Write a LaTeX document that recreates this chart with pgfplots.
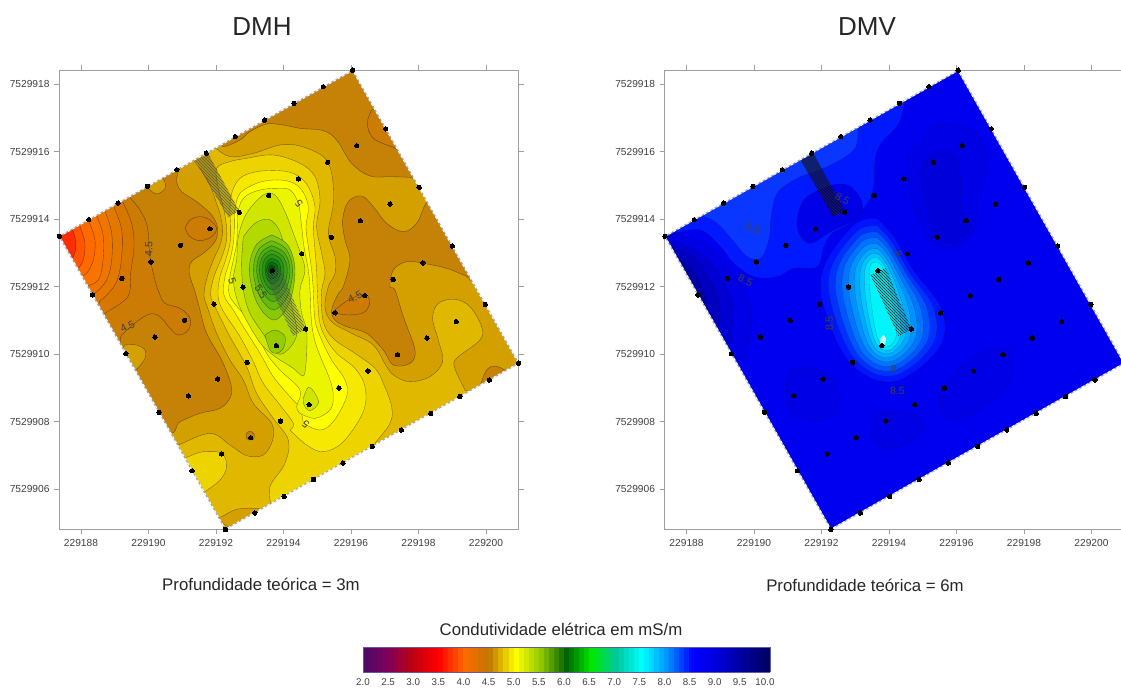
\documentclass[border=0pt]{standalone}
\usepackage{fontspec}
\setmainfont{Liberation Sans}
\usepackage{pgfplots}
\usepackage{pgfplotstable}
\pgfplotsset{compat=1.18}
\usetikzlibrary{patterns}
% x = East - 229180 m, y = North - 7529900 m (full values are typed in the tick labels)
\pgfplotstableread{
x y
7.36 13.49
8.23 13.98
9.10 14.47
9.97 14.97
10.84 15.46
11.71 15.95
12.57 16.44
13.44 16.93
14.31 17.43
15.18 17.92
16.05 18.41
17.03 16.67
18.02 14.94
19.00 13.20
19.98 11.47
20.97 9.73
8.34 11.75
9.33 10.01
10.31 8.27
11.29 6.54
12.28 4.80
13.15 5.29
14.02 5.78
14.89 6.28
15.76 6.77
16.63 7.26
17.49 7.75
18.36 8.24
19.23 8.74
20.10 9.23
9.21 12.24
10.07 12.73
10.95 13.22
11.82 13.71
12.69 14.20
13.56 14.70
14.44 15.19
15.31 15.68
16.17 16.17
10.19 10.50
11.07 11.00
11.94 11.48
12.80 11.98
13.67 12.47
14.54 12.97
15.42 13.46
16.28 13.95
17.16 14.44
11.18 8.76
12.05 9.26
12.92 9.75
13.79 10.25
14.66 10.74
15.53 11.22
16.41 11.73
17.25 12.21
18.13 12.70
12.17 7.04
13.03 7.52
13.91 8.01
14.76 8.50
15.64 8.99
16.50 9.50
17.38 9.98
18.25 10.47
19.12 10.96
}\stations
\definecolor{c38}{RGB}{255,45,5}
\definecolor{c39}{RGB}{255,85,0}
\definecolor{c40}{RGB}{255,106,0}
\definecolor{c41}{RGB}{250,115,0}
\definecolor{c42}{RGB}{238,118,0}
\definecolor{c43}{RGB}{226,120,0}
\definecolor{c44}{RGB}{214,120,0}
\definecolor{c45}{RGB}{204,124,4}
\definecolor{c46}{RGB}{198,130,6}
\definecolor{c47}{RGB}{212,160,0}
\definecolor{c48}{RGB}{224,184,0}
\definecolor{c49}{RGB}{237,212,0}
\definecolor{c50}{RGB}{246,232,0}
\definecolor{c51}{RGB}{255,255,0}
\definecolor{c52}{RGB}{236,245,0}
\definecolor{c53}{RGB}{208,230,0}
\definecolor{c54}{RGB}{178,218,0}
\definecolor{c55}{RGB}{150,205,0}
\definecolor{r1}{RGB}{135,200,10}
\definecolor{r2}{RGB}{105,186,15}
\definecolor{r3}{RGB}{80,172,20}
\definecolor{r4}{RGB}{60,160,20}
\definecolor{r5}{RGB}{40,148,20}
\definecolor{r6}{RGB}{22,132,18}
\definecolor{r7}{RGB}{8,112,12}
\definecolor{r8}{RGB}{0,85,5}
\pgfplotsset{
  gz/.style={x filter/.expression={8+(x-243)/101.25},y filter/.expression={18-(y-252)/101.25}},
  colormap={cond}{rgb255=(74,10,106) rgb255=(128,0,90) rgb255=(192,0,16) rgb255=(255,0,0) rgb255=(255,106,0) rgb255=(192,120,0) rgb255=(255,255,0) rgb255=(144,200,0) rgb255=(0,100,0) rgb255=(0,232,0) rgb255=(0,200,160) rgb255=(0,255,255) rgb255=(0,144,255) rgb255=(0,0,255) rgb255=(0,0,216) rgb255=(0,0,152) rgb255=(0,0,96)},
  mapaxis/.style={scale only axis,width=459.7pt,height=459.3pt,xmin=7.348,xmax=20.97,ymin=4.806,ymax=18.415,
    axis on top,tick align=outside,major tick length=5pt,
    xtick={8,10,12,14,16,18,20},xticklabels={229188,229190,229192,229194,229196,229198,229200},
    ytick={6,8,10,12,14,16,18},yticklabels={7529906,7529908,7529910,7529912,7529914,7529916,7529918},
    xticklabel pos=bottom,yticklabel pos=left,xtick pos=both,ytick pos=both,
    axis line style={gray!75,line width=.9pt},tick style={gray!75,line width=.7pt},
    tick label style={font=\fontsize{10.2pt}{12pt}\selectfont,text=black!75},
    xticklabel style={yshift=-2pt},yticklabel style={xshift=-1pt}},
  overlay/.style={scale only axis,width=459.7pt,height=459.3pt,xmin=7.348,xmax=20.97,ymin=4.806,ymax=18.415,hide axis,clip=false}
}
\newcommand\BL[2]{\addplot[gz,smooth,tension=.6,fill=#1,draw=black,draw opacity=.5,line width=.35pt] coordinates {#2};}
\newcommand\BR[2]{\addplot[gz,smooth,tension=.6,fill=#1,draw=black,draw opacity=.28,line width=.3pt] coordinates {#2};}
\newcommand\Flat[2]{\addplot[gz,fill=#1,draw=none] coordinates {#2};}
\newcommand\Mask{%
 \Flat{white}{(150,180)(1058,180)(1058,211)(178,709)(150,709)}
 \Flat{white}{(1058,180)(1600,180)(1600,1090)(1556,1090)(1058,211)}
 \Flat{white}{(1600,1090)(1600,1620)(676,1620)(676,1588)(1556,1090)}
 \Flat{white}{(150,709)(178,709)(676,1588)(676,1620)(150,1620)}
 \addplot[gz,gray!70,line width=1.1pt] coordinates {(178,709)(1058,211)(1556,1090)(676,1588)(178,709)};
 \addplot[gz,white,line width=1.1pt,dash pattern=on 2.5pt off 2.5pt] coordinates {(178,709)(1058,211)(1556,1090)(676,1588)(178,709)};
}
\newcommand\Hatch[2]{%
 \addplot[gz,fill=black,fill opacity=#1,draw=none] coordinates {(585,480)(625,462)(717,632)(685,652)(585,480)};
 \addplot[gz,pattern=north west lines,pattern color=#2,draw=none] coordinates {(585,480)(625,462)(717,632)(685,652)(585,480)};
 \addplot[gz,fill=black,fill opacity=.08,draw=none] coordinates {(795,825)(840,804)(918,987)(879,1008)(795,825)};
 \addplot[gz,pattern=north west lines,pattern color=#2,draw=none] coordinates {(795,825)(840,804)(918,987)(879,1008)(795,825)};
}
\newcommand\Stations{\addplot[only marks,mark=*,mark size=2.2pt,mark options={fill=black,draw=black,line width=0pt}] table[x=x,y=y] {\stations};}
\newcommand\Lab[4]{\node[rotate=#3,font=\fontsize{10.5pt}{12pt}\selectfont,text=black!75,inner sep=0pt] at (axis cs:#1,#2) {#4};}
\begin{document}
\begin{tikzpicture}[x=1pt,y=1pt]
\path[use as bounding box] (0,0) rectangle (1121,694);
\clip (0,0) rectangle (1121,694);
% ---------------- DMH ----------------
\begin{axis}[mapaxis,at={(59pt,164.7pt)},anchor=south west]
\Flat{c47}{(178,709)(1058,211)(1556,1090)(676,1588)}
\BL{c46}{(535,495)(533,522)(530,545)(545,575)(590,605)(635,645)(653,685)(645,725)(610,760)(575,785)(568,820)(585,875)(600,930)(620,1000)(665,1080)(692,1150)(692,1190)(660,1225)(600,1240)(540,1265)(495,1290)(300,1100)(179,709)(350,590)(535,495)}
\BL{c47}{(445,565)(470,582)(495,565)(492,540)(470,520)(445,565)}
\BL{c47}{(375,1035)(410,1035)(435,1050)(435,1075)(415,1102)(400,1108)(360,1070)(375,1035)}
\BL{c45}{(555,685)(570,660)(600,650)(630,660)(650,685)(635,710)(600,722)(570,710)(555,685)}
\BL{c45}{(385,580)(392,595)(420,630)(442,680)(450,770)(465,840)(478,880)(495,910)(540,925)(570,955)(565,990)(535,1005)(510,985)(480,950)(450,942)(410,965)(365,1005)(340,1030)(179,709)(385,580)}
\BL{c44}{(360,590)(368,605)(395,670)(402,740)(392,820)(390,870)(375,900)(315,940)(300,950)(179,709)(360,590)}
\BL{c43}{(335,605)(342,620)(365,690)(365,770)(352,840)(325,880)(298,905)(285,915)(179,709)(335,605)}
\BL{c42}{(310,625)(317,638)(335,700)(335,780)(320,840)(285,880)(268,890)(179,709)(310,625)}
\BL{c41}{(285,640)(292,652)(310,710)(308,790)(295,840)(260,860)(250,870)(179,709)(285,640)}
\BL{c40}{(260,655)(268,668)(285,720)(280,780)(260,820)(242,830)(235,838)(179,709)(260,655)}
\BL{c39}{(235,670)(242,685)(255,730)(250,780)(235,805)(225,815)(179,709)(235,670)}
\BL{c38}{(212,682)(220,695)(228,735)(220,770)(205,778)(179,709)(212,682)}
% top and east low regions
\BL{c46}{(660,420)(670,440)(720,420)(750,395)(800,372)(850,375)(900,385)(970,392)(1010,420)(1055,490)(1110,528)(1170,530)(1232,532)(1250,535)(1170,300)(1058,213)(660,420)}
\BL{c45}{(1115,330)(1102,370)(1120,415)(1180,442)(1195,445)(1240,400)(1180,330)(1115,330)}
\BL{c46}{(1290,600)(1275,615)(1250,670)(1210,695)(1160,670)(1120,620)(1085,588)(1045,605)(1028,660)(1035,720)(1050,780)(1030,860)(1015,880)(995,930)(1005,960)(1040,980)(1100,1000)(1150,1050)(1180,1095)(1230,1090)(1245,1050)(1210,950)(1185,870)(1170,860)(1180,810)(1220,785)(1270,790)(1340,805)(1398,828)(1420,835)(1450,720)(1290,600)}
\BL{c45}{(1000,938)(1045,945)(1090,938)(1108,915)(1105,890)(1090,882)(1045,900)(1005,930)(1000,938)}
\BL{c46}{(1443,1150)(1460,1110)(1485,1098)(1515,1110)(1525,1115)(1530,1170)(1440,1180)(1443,1150)}
% ridge
\BL{c48}{(520,1340)(535,1335)(630,1300)(690,1335)(740,1367)(790,1365)(818,1320)(815,1270)(760,1210)(730,1140)(690,1080)(650,1000)(625,930)(612,885)(622,830)(640,780)(660,735)(668,695)(662,650)(648,605)(625,545)(585,485)(578,470)(610,430)(640,440)(690,470)(760,460)(840,435)(900,438)(970,470)(995,520)(1000,610)(985,700)(1005,770)(1005,820)(985,860)(975,920)(995,965)(1055,1000)(1120,1035)(1160,1100)(1185,1128)(1230,1145)(1290,1130)(1328,1085)(1315,1020)(1298,955)(1315,910)(1365,898)(1410,920)(1445,980)(1440,1020)(1370,1075)(1365,1105)(1395,1170)(1402,1190)(1000,1460)(690,1586)(590,1480)(520,1340)}
\BL{c46}{(738,1303)(750,1293)(763,1303)(760,1317)(750,1320)(740,1315)(738,1303)}
\BL{c47}{(650,1553)(665,1550)(710,1528)(765,1525)(780,1535)(700,1583)(650,1553)}
\BL{c49}{(550,1375)(565,1370)(610,1355)(665,1360)(680,1400)(660,1440)(615,1475)(605,1480)(540,1420)(550,1375)}
\BL{c49}{(815,1520)(810,1460)(855,1390)(865,1320)(820,1255)(770,1180)(740,1100)(690,1010)(650,930)(632,885)(642,830)(662,780)(678,730)(680,685)(672,630)(655,565)(650,505)(690,485)(740,475)(820,465)(900,490)(945,530)(960,600)(950,680)(965,760)(975,820)(965,870)(965,930)(975,980)(1005,1020)(1065,1060)(1125,1105)(1150,1150)(1175,1220)(1170,1270)(1125,1330)(1120,1345)(960,1520)(815,1520)}
\BL{c50}{(870,1290)(920,1335)(970,1355)(1030,1325)(1090,1235)(1095,1160)(1065,1105)(1010,1060)(975,1010)(958,960)(952,870)(950,810)(945,750)(940,680)(945,620)(925,560)(890,525)(840,512)(770,515)(720,535)(695,580)(690,630)(692,685)(690,730)(677,780)(660,830)(654,885)(668,930)(720,1010)(760,1085)(790,1150)(840,1215)(880,1270)(870,1290)}
\BL{c51}{(910,1270)(960,1290)(1000,1265)(1040,1190)(1035,1140)(995,1080)(965,1020)(945,960)(940,870)(935,810)(925,740)(918,680)(925,620)(905,570)(870,545)(820,540)(770,550)(720,580)(705,630)(703,685)(700,730)(690,780)(675,830)(672,885)(700,930)(730,980)(780,1060)(820,1130)(870,1190)(900,1225)(910,1270)}
\BL{c52}{(900,1240)(945,1255)(990,1230)(1000,1190)(990,1140)(950,1040)(935,970)(930,870)(925,810)(912,740)(905,680)(895,610)(870,570)(830,565)(780,570)(735,590)(715,630)(712,685)(710,730)(700,780)(690,830)(688,885)(720,930)(755,970)(800,1060)(840,1110)(900,1170)(890,1220)(900,1240)}
\BL{c53}{(840,1080)(880,1105)(910,1128)(918,1090)(920,1060)(920,990)(905,940)(900,870)(915,810)(900,755)(880,700)(855,635)(825,585)(790,585)(740,640)(715,710)(710,780)(700,840)(715,910)(750,980)(790,1040)(840,1080)}
\BL{c53}{(910,1195)(925,1162)(945,1180)(955,1210)(930,1232)(912,1215)(910,1195)}
\BL{c54}{(730,710)(765,670)(805,658)(835,685)(855,740)(880,800)(870,870)(875,915)(890,1005)(850,1060)(815,1050)(795,1010)(750,940)(730,870)(725,790)(730,710)}
\BL{c55}{(795,1005)(825,990)(855,1010)(850,1045)(830,1060)(810,1050)(795,1005)}
\BL{r1}{(815,705)(864,736)(885,810)(868,908)(822,960)(771,908)(748,810)(768,736)(815,705)}
\BL{r2}{(815,722)(859,748)(878,810)(862,888)(821,930)(779,888)(760,810)(776,748)(815,722)}
\BL{r3}{(815,737)(854,759)(870,810)(856,872)(820,905)(786,872)(770,810)(783,759)(815,737)}
\BL{r4}{(815,750)(848,768)(862,810)(850,859)(819,885)(791,859)(778,810)(789,768)(815,750)}
\BL{r5}{(815,762)(841,776)(852,810)(843,849)(818,870)(796,849)(786,810)(795,776)(815,762)}
\BL{r6}{(815,775)(835,785)(843,810)(836,837)(817,852)(802,837)(795,810)(801,785)(815,775)}
\BL{r7}{(815,785)(829,793)(835,810)(830,828)(816,838)(805,828)(800,810)(805,793)(815,785)}
\BL{r8}{(815,795)(823,800)(826,810)(823,820)(816,825)(809,820)(806,810)(809,800)(815,795)}
\Hatch{.2}{black!65}
\Mask
\Lab{10.01}{13.11}{90}{4.5}
\Lab{12.48}{12.17}{-70}{5}
\Lab{13.33}{11.85}{-60}{5.5}
\Lab{14.46}{14.46}{130}{5}
\Lab{9.38}{10.81}{25}{4.5}
\Lab{16.12}{11.68}{25}{4.5}
\Lab{14.66}{7.92}{140}{5}
\end{axis}
\begin{axis}[overlay,at={(59pt,164.7pt)},anchor=south west]
\Stations
\end{axis}
% ---------------- DMV ----------------
\begin{axis}[mapaxis,at={(664.5pt,164.7pt)},anchor=south west]
\Flat{blue!94!black}{(178,709)(1058,211)(1556,1090)(676,1588)}
\definecolor{bA}{RGB}{0,25,255}
\definecolor{bB}{RGB}{10,55,255}
\BR{bA}{(205,700)(285,690)(345,740)(385,790)(445,830)(515,830)(565,805)(635,800)(655,740)(680,700)(745,660)(800,580)(810,470)(835,420)(880,370)(900,285)(880,260)(500,460)(180,705)(205,700)}
\BR{bB}{(260,650)(295,650)(335,670)(385,725)(425,770)(465,775)(490,720)(497,650)(515,580)(575,535)(665,500)(745,450)(760,385)(775,360)(640,390)(260,650)}
\BR{blue!91!black}{(575,660)(595,600)(665,560)(725,555)(767,600)(760,650)(675,695)(615,730)(580,700)(575,660)}
\definecolor{dA}{RGB}{0,0,230}
\definecolor{dB}{RGB}{0,0,210}
\definecolor{dC}{RGB}{0,0,190}
\definecolor{dD}{RGB}{0,0,165}
\definecolor{dE}{RGB}{0,0,135}
\BR{dA}{(205,700)(300,735)(360,800)(410,860)(435,930)(430,1010)(410,1080)(300,1000)(190,760)(205,700)}
\BR{dB}{(195,725)(280,755)(335,815)(370,880)(385,940)(375,1000)(365,1030)(250,950)(195,760)(195,725)}
\BR{dC}{(190,735)(260,770)(305,830)(335,890)(340,950)(325,980)(230,900)(200,780)(190,735)}
\BR{dD}{(190,765)(240,790)(280,845)(300,900)(300,930)(210,880)(215,800)(190,765)}
\BR{dE}{(225,805)(250,835)(270,880)(278,900)(225,860)(222,800)(225,805)}
\BR{dA}{(945,440)(995,375)(1115,400)(1145,500)(1115,610)(1105,690)(1045,740)(985,730)(925,620)(905,470)(945,440)}
\BR{blue!86!black}{(945,510)(985,460)(1045,470)(1065,540)(1065,620)(1095,680)(1045,725)(995,710)(965,620)(945,510)}
\BR{dA}{(1005,1180)(1085,1085)(1195,1045)(1220,1100)(1195,1170)(1095,1240)(1015,1250)(1005,1180)}
\BR{dA}{(795,1310)(855,1345)(935,1310)(960,1265)(885,1235)(815,1245)(795,1310)}
\BR{dA}{(540,1200)(555,1120)(625,1105)(685,1150)(695,1220)(645,1260)(575,1250)(540,1200)}
% central peak
\definecolor{p1}{RGB}{0,20,255}
\definecolor{p2}{RGB}{0,50,255}
\definecolor{p3}{RGB}{0,85,255}
\definecolor{p4}{RGB}{0,115,255}
\definecolor{p5}{RGB}{0,145,255}
\definecolor{p6}{RGB}{0,170,255}
\definecolor{p7}{RGB}{0,195,255}
\definecolor{p8}{RGB}{0,225,255}
\definecolor{p9}{RGB}{0,245,250}
\BR{p1}{(815,655)(865,710)(925,812)(1010,930)(1000,1045)(865,1145)(735,1090)(655,920)(655,800)(745,675)(815,655)}
\BR{p2}{(815,677)(858,724)(911,815)(986,928)(979,1038)(862,1128)(748,1078)(678,917)(677,802)(754,694)(815,677)}
\BR{p3}{(815,696)(852,735)(900,817)(965,927)(961,1032)(859,1113)(760,1068)(698,914)(697,804)(762,710)(815,696)}
\BR{p4}{(815,713)(847,746)(889,819)(946,926)(944,1027)(857,1099)(771,1058)(717,912)(715,806)(769,725)(815,713)}
\BR{p5}{(815,730)(842,757)(878,821)(927,925)(927,1022)(855,1085)(782,1048)(736,910)(733,808)(776,740)(815,730)}
\BR{p6}{(815,746)(837,767)(868,823)(909,924)(912,1017)(852,1073)(792,1040)(753,907)(750,809)(783,754)(815,746)}
\BR{p7}{(815,761)(832,776)(859,825)(893,923)(898,1012)(850,1061)(801,1032)(768,905)(765,811)(789,766)(815,761)}
\BR{p8}{(815,774)(828,784)(851,827)(879,922)(885,1008)(849,1051)(809,1024)(782,904)(778,812)(794,778)(815,774)}
\BR{p9}{(815,787)(824,792)(843,828)(864,921)(873,1004)(847,1040)(817,1017)(796,902)(792,814)(800,789)(815,787)}
\definecolor{pw}{RGB}{190,255,250}
\addplot[gz,smooth,fill=pw,draw=none] coordinates {(825,1015)(835,1005)(842,1020)(835,1035)(825,1030)(825,1015)};
\Hatch{.42}{black!85}
\Mask
\Lab{9.97}{13.73}{-20}{8.5}
\Lab{9.75}{12.18}{-25}{8.5}
\Lab{12.62}{14.6}{-30}{8.5}
\Lab{12.23}{10.9}{90}{8.5}
\Lab{14.28}{12.95}{-70}{8}
\Lab{14.15}{9.55}{0}{8}
\Lab{14.25}{8.9}{0}{8.5}
\end{axis}
\begin{axis}[overlay,at={(664.5pt,164.7pt)},anchor=south west]
\Stations
\end{axis}
% ---------------- colour scale ----------------
\begin{axis}[at={(363pt,22pt)},anchor=south west,hide axis,scale only axis,width=407pt,height=1pt,
  xmin=0,xmax=1,ymin=0,ymax=1,colormap name=cond,point meta min=2,point meta max=10.1,
  colorbar horizontal,colorbar sampled,
  colorbar style={samples=82,at={(0,0)},anchor=south west,width=407pt,height=25pt,scale only axis,
    xshift=0pt,yshift=0pt,xtick={2,2.5,...,10},major tick length=0pt,
    axis line style={blue!30!gray,line width=.5pt},
    xticklabel style={font=\fontsize{9.8pt}{11pt}\selectfont,text=black!75,yshift=-3pt,
      /pgf/number format/.cd,fixed,fixed zerofill,precision=1,assume math mode=true}}]
\addplot[draw=none] coordinates {(0,0)};
\end{axis}
% ---------------- texts ----------------
\node[font=\fontsize{26pt}{30pt}\selectfont,text=black!85] at (262,667) {DMH};
\node[font=\fontsize{26pt}{30pt}\selectfont,text=black!85] at (867,667) {DMV};
\node[font=\fontsize{16.8pt}{20pt}\selectfont,text=black!85] at (261,110) {Profundidade teórica = 3m};
\node[font=\fontsize{16.8pt}{20pt}\selectfont,text=black!85] at (865,109) {Profundidade teórica = 6m};
\node[font=\fontsize{16.8pt}{20pt}\selectfont,text=black!85] at (561,65) {Condutividade elétrica em mS/m};
\end{tikzpicture}
\end{document}
